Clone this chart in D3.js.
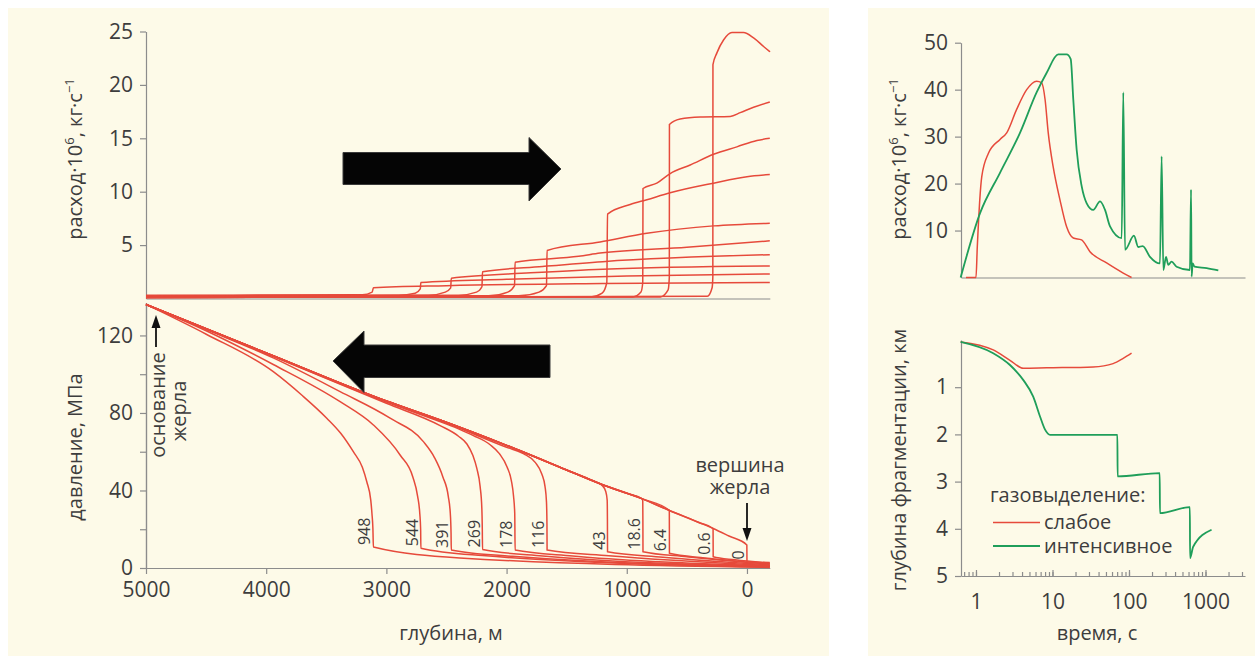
<!DOCTYPE html>
<html>
<head>
<meta charset="utf-8">
<script src="https://cdn.jsdelivr.net/npm/d3@7"></script>
<style>
  body { margin: 0; background: #fff; }
  svg { display: block; font-family: "Open Sans", "Noto Sans", sans-serif; }
  .axis path, .axis line { stroke: #8c8c8c; stroke-width: 1.2; }
  .axis text { fill: #3d3d3d; font-size: 21px; font-family: "Open Sans", "Noto Sans", sans-serif; }
  .lbl { fill: #3d3d3d; font-size: 20px; }
  .red { fill: none; stroke: #e64a3b; stroke-width: 1.5; }
  .green { fill: none; stroke: #1f9e5a; stroke-width: 1.8; }
  .cl { fill: #3d3d3d; font-size: 16px; }
</style>
</head>
<body>
<svg id="chart" width="1260" height="660"></svg>
<script>
// ---- data --------------------------------------------------------------
// curve labels (left panels), same order as the curves below
const curveLabels = ["948", "544", "391", "269", "178", "116", "43", "18.6", "6.4", "0.6", "0"];
// fragmentation depth (m) and pressure at the bottom of each drop (MPa)
const fragDepth = [3108, 2713, 2460, 2200, 1929, 1663, 1160, 865, 645, 281, 0];
const dropBottom = [10.8, 10.2, 9.3, 9.6, 9.3, 9.3, 8.4, 8.4, 7.6, 5.8, 3.3];

// mass flux vs depth [depth m, flux 10^6 kg/s] (no step for "0")
const flux948 = [[5000,0.3],[3200,0.35],[3118,0.6],[3108,1.0],[2500,1.2],[1200,1.4],[-190,1.5]];
const flux544 = [[5000,0.25],[2900,0.3],[2760,0.5],[2718,0.9],[2713,1.5],[2000,1.8],[1000,2.1],[-190,2.3]];
const flux391 = [[5000,0.2],[2650,0.3],[2510,0.6],[2465,1.0],[2460,1.9],[1800,2.4],[1200,2.75],[-190,3.05]];
const flux269 = [[5000,0.2],[2400,0.3],[2250,0.6],[2205,1.1],[2200,2.5],[1700,3.0],[1200,3.45],[-190,4.1]];
const flux178 = [[5000,0.15],[2150,0.25],[1990,0.6],[1934,1.2],[1929,3.4],[1400,3.95],[1222,4.25],[500,4.8],[-190,5.4]];
const flux116 = [[5000,0.15],[1900,0.25],[1730,0.6],[1668,1.2],[1663,4.5],[1222,5.3],[833,6.1],[278,6.8],[-190,7.05]];
const flux43 = [[5000,0.1],[1300,0.15],[1205,0.5],[1166,1.5],[1160,7.9],[972,8.8],[833,9.25],[639,9.9],[278,10.8],[0,11.4],[-190,11.6]];
const flux18 = [[5000,0.1],[950,0.15],[882,0.6],[867,1.5],[865,10.3],[750,10.8],[639,11.7],[472,12.5],[278,13.5],[84,14.2],[-83,14.8],[-190,15.0]];
const flux6 = [[5000,0.1],[720,0.15],[656,0.8],[646,2],[645,16.3],[556,16.8],[389,17.0],[139,17.05],[56,17.4],[-55,17.9],[-190,18.4]];
const flux06 = [[5000,0.1],[330,0.2],[290,1.0],[284,2],[283,21.9],[250,23.0],[195,24.2],[125,24.9],[29,24.9],[-55,24.4],[-138,23.6],[-192,23.1]];
const fluxCurves = [flux948, flux544, flux391, flux269, flux178, flux116, flux43, flux18, flux6, flux06];

// pressure vs depth [depth m, MPa]
const pres948 = [[5000,136],[4495,120.5],[3941,101.3],[3700,89],[3496,77.3],[3380,69.5],[3275,60],[3200,52],[3163,44.5],[3130,35],[3120,28],[3112,20],[3108,10.8],[2390,5.2],[-190,0.3]];
const pres544 = [[5000,136],[4495,122.3],[3941,105],[3385,85.8],[3108,73.8],[2886,58.3],[2780,47],[2740,37],[2722,28],[2715,20],[2713,10.2],[2200,6.4],[-190,0.5]];
const pres391 = [[5000,136],[4495,123],[3941,108.4],[3385,91],[2969,77.3],[2692,65.2],[2600,57],[2530,47],[2485,37],[2468,28],[2462,18],[2460,9.3],[1950,6.0],[-190,0.7]];
const pres269 = [[5000,136],[4000,110.6],[3000,85],[2553,73.5],[2400,68],[2330,64],[2280,58],[2248,51.5],[2220,42],[2206,31],[2202,20],[2200,9.6],[1700,6.2],[-190,0.9]];
const pres178 = [[5000,136],[4000,110.8],[3000,85.6],[2600,76.6],[2400,71.8],[2276,68.3],[2137,63.6],[2060,59],[1995,52],[1960,45],[1942,37],[1932,28],[1929,9.3],[1450,6.2],[-190,1.1]];
const pres116 = [[5000,136],[4000,111],[3000,86],[2500,74.8],[2000,62.3],[1860,59],[1762,54.5],[1707,48.5],[1680,42],[1668,34],[1664,22],[1663,9.3],[1150,6.3],[-190,1.3]];
const pres43 = [[5000,136],[4000,111],[3000,86.2],[2553,76.4],[2000,63.3],[1500,50.6],[1280,45],[1205,42.6],[1175,39.5],[1163,35],[1161,25],[1160,8.4],[700,5.6],[-190,1.6]];
const pres18 = [[5000,136],[4000,111],[3000,86.2],[2553,76.4],[2000,63.3],[1500,50.6],[1222,43.5],[1000,38.5],[875,35.8],[867,34.8],[866,25],[865,8.4],[500,5.8],[-190,1.9]];
const pres6 = [[5000,136],[4000,111],[3000,86.2],[2553,76.4],[2000,63.3],[1500,50.6],[1222,43.5],[875,35.8],[646,29.7],[645,7.6],[350,5.2],[-190,2.2]];
const pres06 = [[5000,136],[4000,111],[3000,86.2],[2553,76.4],[2000,63.3],[1500,50.6],[1222,43.5],[875,35.8],[645,29.7],[400,23.5],[282,20.4],[281,5.8],[100,4.2],[-190,2.5]];
const pres0 = [[5000,136],[4000,111],[3000,86.2],[2553,76.4],[2000,63.3],[1500,50.6],[1222,43.5],[875,35.8],[645,29.7],[400,23.5],[281,20.4],[150,16.5],[1,11.9],[0,3.3],[-190,2.8]];
const presCurves = [pres948, pres544, pres391, pres269, pres178, pres116, pres43, pres18, pres6, pres06, pres0];

// right panels: [time s, value]
const weakFlux = [[0.74,0],[1.0,0],[1.04,6.5],[1.19,21.5],[1.45,26.4],[2.06,29.4],[2.52,30.8],[3.4,35.8],[4.6,40],[6.2,41.8],[7.2,41.5],[8.0,37.9],[8.8,30.8],[10.2,23.6],[12.5,16.6],[15.3,10.8],[18.7,8.4],[24.0,8.0],[30.9,5.5],[51,3.1],[83,1],[108,0]];
const strongFlux = [[0.63,0],[1.13,13.7],[2.06,22.3],[3.76,30.8],[6.2,39.4],[8.4,43.6],[11.9,47.5],[15.3,47.5],[17.3,46.5],[18.7,37.9],[20.7,27.2],[24.1,19.4],[28,15.8],[34.1,14.4],[41.8,16.2],[48.6,14.4],[56.5,10.9],[80.3,8.4],[84.2,39.4],[88.7,5.9],[116,8.9],[132,6.5],[151,6.7],[188,4.4],[254,3.0],[267,25.8],[281,1.6],[305,4.4],[326,2.7],[360,3.4],[419,2.3],[626,1.6],[647,18.7],[658,0.2],[680,3.0],[718,2.3],[1037,2.0],[1470,1.5]];
const weakFrag = [[0.63,0.04],[1.68,0.21],[2.78,0.43],[4.16,0.6],[8.4,0.59],[34,0.57],[62,0.5],[84,0.39],[108,0.28]];
const strongFrag = [[0.63,0.04],[1.68,0.28],[2.78,0.53],[4.16,0.85],[5.6,1.2],[6.87,1.62],[8.0,1.9],[9.3,2.01],[70.5,2.01],[71,2.89],[252,2.82],[254,3.67],[625,3.54],[628,4.62],[690,4.38],[1200,4.02]];

const depthTicks = [5000, 4000, 3000, 2000, 1000, 0];
const fluxTicks = [5, 10, 15, 20, 25];
const presTicks = [0, 40, 80, 120];
const presMinor = [20, 60, 100];
const flux2Ticks = [10, 20, 30, 40, 50];
const fragTicks = [1, 2, 3, 4, 5];
const timeTicks = [1, 10, 100, 1000];

// ---- layout -------------------------------------------------------------
const svg = d3.select("#chart");
svg.append("rect").attr("x", 8).attr("y", 8).attr("width", 821).attr("height", 648).attr("fill", "#fdfae8");
svg.append("rect").attr("x", 868).attr("y", 8).attr("width", 387).attr("height", 648).attr("fill", "#fdfae8");

const xDepth = d3.scaleLinear().domain([5000, -190]).range([146, 769.8]);
const yFlux = d3.scaleLinear().domain([0, 25]).range([298.5, 31.5]);
const yPres = d3.scaleLinear().domain([0, 137]).range([568, 302.5]);

const xTime = d3.scaleLog().domain([0.637, 3283]).range([961, 1245]);
const yFlux2 = d3.scaleLinear().domain([0, 50]).range([277.5, 42.7]);
const yFrag = d3.scaleLinear().domain([0, 5]).range([340, 576]);

const smooth = d3.curveMonotoneX;
const intFmt = d3.format("d");

/* --- left: flux vs depth ------------------------------------------------ */
svg.append("g").attr("class", "axis").attr("transform", "translate(146,0)")
  .call(d3.axisLeft(yFlux).tickValues(fluxTicks).tickSize(6).tickSizeOuter(0).tickPadding(7));
svg.append("g").attr("class", "axis").attr("transform", "translate(0,298.5)")
  .call(d3.axisBottom(xDepth).tickValues([]).tickSizeOuter(0));

const fluxLine = d3.line().x(d => xDepth(d[0])).y(d => yFlux(d[1])).curve(smooth);
svg.append("g").selectAll("path").data(fluxCurves).join("path")
  .attr("class", "red").attr("d", fluxLine);

/* --- left: pressure vs depth -------------------------------------------- */
svg.append("g").attr("class", "axis").attr("transform", "translate(146,0)")
  .call(d3.axisLeft(yPres).tickValues(presTicks).tickSize(6).tickSizeOuter(0).tickPadding(7));
svg.append("g").attr("class", "axis").attr("transform", "translate(146,0)")
  .call(d3.axisLeft(yPres).tickValues(presMinor).tickSize(6).tickFormat("").tickSizeOuter(0));
svg.append("g").attr("class", "axis").attr("transform", "translate(0,568)")
  .call(d3.axisBottom(xDepth).tickValues(depthTicks).tickSize(6).tickSizeOuter(0).tickPadding(8)
    .tickFormat(intFmt));

const presLine = d3.line().x(d => xDepth(d[0])).y(d => yPres(d[1])).curve(smooth);
svg.append("g").selectAll("path").data(presCurves).join("path")
  .attr("class", "red").attr("d", presLine);

svg.append("g").selectAll("text").data(curveLabels).join("text")
  .attr("class", "cl")
  .attr("transform", (d, i) => `translate(${xDepth(fragDepth[i]) - 3},${yPres(dropBottom[i]) - 2}) rotate(-90)`)
  .text(d => d);

// axis titles
function fluxTitle(x, y) {
  const t = svg.append("text").attr("class", "lbl").attr("text-anchor", "middle")
    .attr("transform", `translate(${x},${y}) rotate(-90)`);
  t.append("tspan").text("расход·10");
  t.append("tspan").attr("dy", -8).attr("font-size", 13).text("6");
  t.append("tspan").attr("dy", 8).text(", кг·с");
  t.append("tspan").attr("dy", -8).attr("font-size", 13).text("−1");
}
function vTitle(x, y, s) {
  svg.append("text").attr("class", "lbl").attr("text-anchor", "middle")
    .attr("transform", `translate(${x},${y}) rotate(-90)`).text(s);
}
fluxTitle(82, 159);
vTitle(82, 447, "давление, МПа");
svg.append("text").attr("class", "lbl").attr("text-anchor", "middle").attr("x", 451).attr("y", 640).text("глубина, м");

// annotations
const arrowHead = (x, y, dir) => `M${x},${y}L${x - 4.5},${y - 13 * dir}L${x + 4.5},${y - 13 * dir}Z`;
svg.append("line").attr("x1", 156).attr("x2", 156).attr("y1", 347).attr("y2", 326).attr("stroke", "#111").attr("stroke-width", 1.8);
svg.append("path").attr("d", arrowHead(156, 315, -1)).attr("fill", "#111");
vTitle(165, 405, "основание");
vTitle(186, 411, "жерла");

svg.append("text").attr("class", "lbl").attr("text-anchor", "middle").attr("x", 740).attr("y", 472).text("вершина");
svg.append("text").attr("class", "lbl").attr("text-anchor", "middle").attr("x", 740).attr("y", 494).text("жерла");
svg.append("line").attr("x1", 747).attr("x2", 747).attr("y1", 503).attr("y2", 530).attr("stroke", "#111").attr("stroke-width", 1.8);
svg.append("path").attr("d", arrowHead(747, 541, 1)).attr("fill", "#111");

// big block arrows
svg.append("path")
  .attr("d", "M343,152.5L529,152.5L529,137.5L561,169L529,201L529,184.5L343,184.5Z")
  .attr("fill", "#050505").attr("stroke", "#3a3a3a").attr("stroke-width", 1);
svg.append("path")
  .attr("d", "M550,345L364,345L364,331L333,361L364,392.5L364,377.5L550,377.5Z")
  .attr("fill", "#050505").attr("stroke", "#3a3a3a").attr("stroke-width", 1);

/* --- right: flux vs time ------------------------------------------------ */
svg.append("g").attr("class", "axis").attr("transform", "translate(961,0)")
  .call(d3.axisLeft(yFlux2).tickValues(flux2Ticks).tickSize(6).tickSizeOuter(0).tickPadding(7));
svg.append("g").attr("class", "axis").attr("transform", "translate(0,277.5)")
  .call(d3.axisBottom(xTime).tickValues([]).tickSizeOuter(0));

const f2Line = d3.line().x(d => xTime(d[0])).y(d => yFlux2(d[1])).curve(smooth);
svg.append("path").attr("class", "red").attr("d", f2Line(weakFlux));
svg.append("path").attr("class", "green").attr("d", f2Line(strongFlux));

/* --- right: fragmentation depth vs time --------------------------------- */
svg.append("g").attr("class", "axis").attr("transform", "translate(961,0)")
  .call(d3.axisLeft(yFrag).tickValues(fragTicks).tickSize(6).tickSizeOuter(0).tickPadding(7)
    .tickFormat(intFmt));
svg.append("g").attr("class", "axis").attr("transform", "translate(0,576)")
  .call(d3.axisBottom(xTime).tickValues(xTime.ticks()).tickSize(-4).tickFormat("").tickSizeOuter(0));
svg.append("g").attr("class", "axis").attr("transform", "translate(0,576)")
  .call(d3.axisBottom(xTime).tickValues(timeTicks).tickSize(-6).tickSizeOuter(0).tickPadding(18)
    .tickFormat(intFmt))
  .select(".domain").remove();

const fragLine = d3.line().x(d => xTime(d[0])).y(d => yFrag(d[1])).curve(smooth);
svg.append("path").attr("class", "red").attr("d", fragLine(weakFrag));
svg.append("path").attr("class", "green").attr("d", fragLine(strongFrag));

fluxTitle(906, 159);
vTitle(906, 460, "глубина фрагментации, км");
svg.append("text").attr("class", "lbl").attr("text-anchor", "middle").attr("x", 1097).attr("y", 640).text("время, с");

// legend
svg.append("text").attr("class", "lbl").attr("x", 990).attr("y", 502).text("газовыделение:");
svg.append("line").attr("x1", 993).attr("x2", 1040).attr("y1", 522.5).attr("y2", 522.5).attr("class", "red");
svg.append("text").attr("class", "lbl").attr("x", 1044).attr("y", 528.5).text("слабое");
svg.append("line").attr("x1", 993).attr("x2", 1040).attr("y1", 546).attr("y2", 546).attr("class", "green");
svg.append("text").attr("class", "lbl").attr("x", 1044).attr("y", 552.5).text("интенсивное");
</script>
</body>
</html>
